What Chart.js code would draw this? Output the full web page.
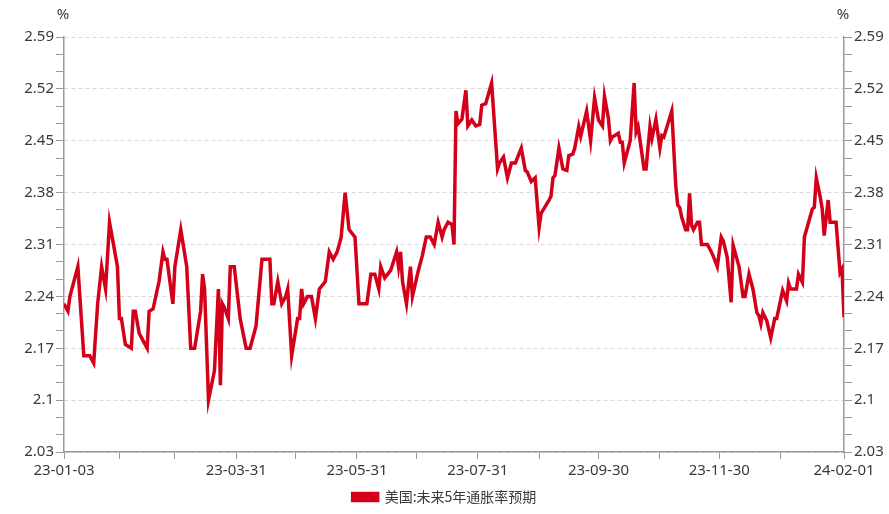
<!DOCTYPE html>
<html lang="zh-CN">
<head>
<meta charset="UTF-8">
<title>美国:未来5年通胀率预期</title>
<style>
  html, body { margin: 0; padding: 0; background: #fff; }
  #chart { width: 889px; height: 514px; position: relative; }
</style>
</head>
<body>
<div id="chart"><canvas id="c"></canvas></div>
<script src="https://cdn.jsdelivr.net/npm/chart.js@4/dist/chart.umd.min.js"></script>
<script>
// 美国:未来5年通胀率预期, 2023-01-03 ~ 2024-02-01
const seriesName = '美国:未来5年通胀率预期';
const unit = '%';

// days since 2023-01-03 (turning points)
const dayOffsets = [
  0, 2, 3, 5, 7, 10, 13, 15, 17, 19, 21, 23, 27, 28, 29, 31, 34, 35, 36, 38,
  40, 42, 43, 45, 48, 50, 51, 52, 55, 56, 59, 62, 64, 66, 69, 70, 71, 73, 76, 78,
  79, 80, 81, 83, 84, 86, 89, 92, 94, 97, 100, 104, 105, 106, 108, 110, 112, 113, 115, 118,
  119, 120, 121, 123, 125, 127, 129, 132, 134, 136, 138, 140, 142, 144, 147, 149, 153, 155, 157, 159,
  160, 162, 165, 168, 169, 170, 171, 173, 175, 176, 179, 181, 183, 185, 187, 189, 191, 192, 194, 196,
  197, 198, 199, 201, 203, 204, 206, 208, 210, 211, 213, 216, 219, 220, 222, 224, 226, 228, 231, 233,
  234, 236, 238, 240, 241, 245, 246, 247, 248, 250, 252, 254, 255, 257, 258, 260, 261, 264, 266, 268,
  270, 272, 273, 275, 276, 277, 280, 281, 282, 283, 286, 288, 289, 290, 293, 294, 296, 297, 299, 301,
  302, 303, 307, 309, 310, 311, 312, 314, 315, 316, 317, 318, 320, 321, 322, 325, 327, 328, 330, 332,
  333, 335, 337, 338, 341, 343, 344, 346, 348, 350, 351, 352, 353, 355, 357, 359, 360, 363, 365, 366,
  367, 370, 371, 373, 374, 378, 379, 380, 382, 383, 384, 386, 387, 390, 392, 393, 394
];
const rates = [
  2.23, 2.22, 2.24, 2.26, 2.28, 2.16, 2.16, 2.15, 2.23, 2.28, 2.25, 2.34, 2.28, 2.21, 2.21, 2.175, 2.17, 2.22, 2.22, 2.19,
  2.18, 2.17, 2.22, 2.223, 2.26, 2.30, 2.29, 2.29, 2.23, 2.28, 2.33, 2.28, 2.17, 2.17, 2.22, 2.27, 2.25, 2.10, 2.14, 2.25,
  2.12, 2.23, 2.225, 2.21, 2.28, 2.28, 2.21, 2.17, 2.17, 2.20, 2.29, 2.29, 2.23, 2.23, 2.26, 2.23, 2.24, 2.25, 2.16, 2.21,
  2.21, 2.25, 2.23, 2.24, 2.24, 2.21, 2.25, 2.26, 2.30, 2.29, 2.30, 2.32, 2.38, 2.33, 2.32, 2.23, 2.23, 2.27, 2.27, 2.25,
  2.28, 2.265, 2.275, 2.30, 2.28, 2.30, 2.26, 2.23, 2.28, 2.24, 2.275, 2.295, 2.32, 2.32, 2.31, 2.34, 2.32, 2.33, 2.34, 2.337,
  2.31, 2.49, 2.473, 2.479, 2.518, 2.47, 2.478, 2.47, 2.472, 2.498, 2.50, 2.528, 2.412, 2.42, 2.428, 2.40, 2.42, 2.42, 2.44, 2.41,
  2.408, 2.395, 2.40, 2.333, 2.352, 2.37, 2.375, 2.40, 2.403, 2.44, 2.412, 2.41, 2.43, 2.432, 2.44, 2.469, 2.456, 2.49, 2.45, 2.508,
  2.478, 2.47, 2.51, 2.48, 2.45, 2.455, 2.46, 2.448, 2.448, 2.42, 2.45, 2.528, 2.462, 2.469, 2.412, 2.412, 2.469, 2.453, 2.479, 2.44,
  2.457, 2.455, 2.49, 2.39, 2.363, 2.36, 2.347, 2.33, 2.33, 2.379, 2.336, 2.33, 2.34, 2.34, 2.31, 2.31, 2.30, 2.294, 2.28, 2.32,
  2.315, 2.293, 2.232, 2.309, 2.28, 2.24, 2.24, 2.27, 2.25, 2.218, 2.214, 2.203, 2.218, 2.207, 2.184, 2.21, 2.21, 2.248, 2.234, 2.258,
  2.25, 2.25, 2.27, 2.259, 2.32, 2.358, 2.36, 2.40, 2.374, 2.358, 2.322, 2.37, 2.34, 2.34, 2.272, 2.277, 2.212
];

// x ticks: month ends, every other one labelled
const xTickDays = [0, 28, 56, 87, 117, 148, 178, 209, 240, 270, 301, 331, 362, 394];
const xTickLabels = ['23-01-03', '', '', '23-03-31', '', '23-05-31', '', '23-07-31', '', '23-09-30', '', '23-11-30', '', '24-02-01'];
const yTicks = [2.03, 2.1, 2.17, 2.24, 2.31, 2.38, 2.45, 2.52, 2.59];

const red = '#d4001a';
const textColor = '#3a3a3a';
const axisColor = '#9a9a9a';
const gridColor = '#d9d9d9';
const font = { family: "'Noto Sans CJK SC', 'Noto Sans', sans-serif", size: 14 };
const tickFont = { family: "'Noto Sans', sans-serif", size: 15 };

const isMain = v => yTicks.some(t => Math.abs(t - v) < 1e-6);

function buildYTicks(scale) {
  const list = [];
  yTicks.forEach((v, i) => {
    list.push({ value: v });
    if (i < yTicks.length - 1) {
      const step = (yTicks[i + 1] - v) / 3;
      list.push({ value: v + step }, { value: v + 2 * step });
    }
  });
  scale.ticks = list;
}

function yLabel(value) {
  const m = yTicks.find(t => Math.abs(t - value) < 1e-6);
  return m === undefined ? '' : String(m);
}

function yAxis(position, width) {
  return {
    position: position,
    min: yTicks[0],
    max: yTicks[yTicks.length - 1],
    afterBuildTicks: buildYTicks,
    afterFit: s => { s.width = width; },
    ticks: { callback: yLabel, color: textColor, font: tickFont, padding: 2, autoSkip: false },
    grid: {
      drawOnChartArea: position === 'left',
      color: ctx => (ctx.tick && isMain(ctx.tick.value)) ? gridColor : 'rgba(0,0,0,0)',
      tickColor: axisColor,
      tickLength: 8,
      tickBorderDash: []
    },
    border: { color: axisColor, width: 1.5, dash: [4, 3] }
  };
}

const unitLabels = {
  id: 'unitLabels',
  afterDraw(chart) {
    const { ctx, chartArea } = chart;
    ctx.save();
    ctx.font = `${tickFont.size}px ${tickFont.family}`;
    ctx.fillStyle = textColor;
    ctx.textAlign = 'center';
    ctx.textBaseline = 'middle';
    ctx.fillText(unit, chartArea.left - 1, chartArea.top - 22);
    ctx.fillText(unit, chartArea.right - 1, chartArea.top - 22);
    ctx.restore();
  }
};

new Chart(document.getElementById('c'), {
  type: 'line',
  data: {
    datasets: [{
      label: seriesName,
      data: dayOffsets.map((d, i) => ({ x: d, y: rates[i] })),
      borderColor: red,
      backgroundColor: red,
      borderWidth: 3.5,
      pointRadius: 0,
      tension: 0,
      yAxisID: 'y'
    }]
  },
  options: {
    responsive: true,
    maintainAspectRatio: false,
    animation: false,
    layout: { padding: { top: 37, left: 0, right: 0, bottom: 0 } },
    plugins: {
      legend: {
        position: 'bottom',
        labels: { boxWidth: 25, boxHeight: 7, padding: 5, color: textColor, font: font }
      },
      tooltip: { enabled: false }
    },
    scales: {
      x: {
        type: 'linear',
        min: xTickDays[0],
        max: xTickDays[xTickDays.length - 1],
        afterBuildTicks: s => { s.ticks = xTickDays.map(v => ({ value: v })); },
        afterFit: s => { s.height = 33; },
        ticks: { autoSkip: false, maxRotation: 0, color: textColor, font: tickFont, padding: 3,
                 callback: (v, i) => xTickLabels[i] },
        grid: { drawOnChartArea: false, tickColor: axisColor, tickLength: 7 },
        border: { color: axisColor, width: 1.5 }
      },
      y: yAxis('left', 64),
      y2: yAxis('right', 45)
    }
  },
  plugins: [unitLabels]
});
</script>
</body>
</html>
